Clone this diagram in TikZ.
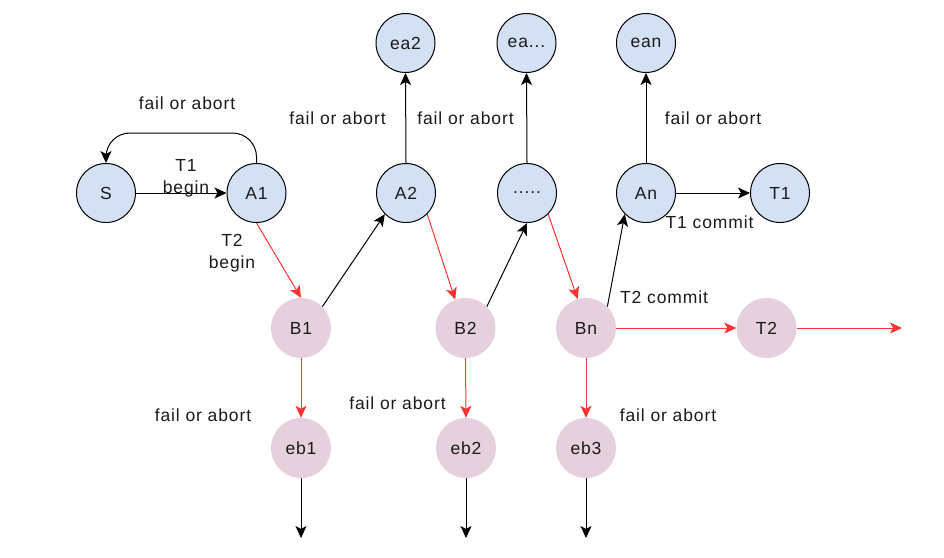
\documentclass[tikz,border=0pt]{standalone}
\usepackage{fontspec}
\setmainfont{Liberation Sans}[LetterSpace=5]
\usetikzlibrary{arrows.meta}
\definecolor{bluefill}{HTML}{D4E1F5}
\definecolor{pinkfill}{HTML}{E6D0DE}
\definecolor{redline}{HTML}{FF3333}
\definecolor{txt}{HTML}{1A1A1A}
\begin{document}
\begin{tikzpicture}[x=1pt,y=-1pt,
  font=\fontsize{17.5pt}{22pt}\selectfont, text=txt,
  bnode/.style={circle,draw=black,fill=bluefill,line width=1pt,minimum size=59pt,inner sep=0pt},
  pnode/.style={circle,draw=none,fill=pinkfill,minimum size=60pt,inner sep=0pt},
  lbl/.style={inner sep=0pt,align=center},
  blk/.style={draw=black,line width=1pt,-{Stealth[length=12pt,width=11pt,inset=3pt]}},
  rd/.style={draw=redline,line width=1pt,-{Stealth[length=12pt,width=11pt,inset=3pt]}}]
\useasboundingbox (0,0) rectangle (944,557);
% blue nodes
\node[bnode] (S) at (106,193) {S};
\node[bnode] (A1) at (256.5,193) {A1};
\node[bnode] (A2) at (406,193) {A2};
\node[bnode] (dots) at (527,193) {.....};
\node[bnode] (An) at (646,193) {An};
\node[bnode] (T1) at (780,193) {T1};
\node[bnode] (ea2) at (405.5,43) {ea2};
\node[bnode] (eadots) at (526.5,43) {ea...};
\node[bnode] (ean) at (646,43) {ean};
% pink nodes
\node[pnode] (B1) at (301,328) {B1};
\node[pnode] (B2) at (465.5,328) {B2};
\node[pnode] (Bn) at (586,328) {Bn};
\node[pnode] (T2) at (766.5,328) {T2};
\node[pnode] (eb1) at (301,448) {eb1};
\node[pnode] (eb2) at (466,448) {eb2};
\node[pnode] (eb3) at (586,448) {eb3};
% free ends
\coordinate (T2end) at (902,328);
\coordinate (eb1end) at (301,538);
\coordinate (eb2end) at (466,538);
\coordinate (eb3end) at (586,538);
% labels
\node[lbl] (l1) at (187,103) {fail or abort};
\node[lbl] (l2) at (186,178) {T1\\begin};
\node[lbl] (l3) at (232,253) {T2\\begin};
\node[lbl] (l4) at (337.5,118) {fail or abort};
\node[lbl] (l5) at (465.5,118) {fail or abort};
\node[lbl] (l6) at (713,118) {fail or abort};
\node[lbl] (l7) at (709.5,222) {T1 commit};
\node[lbl] (l8) at (664,297) {T2 commit};
\node[lbl] (l9) at (203,415) {fail or abort};
\node[lbl] (l10) at (397.5,403) {fail or abort};
\node[lbl] (l11) at (668,415) {fail or abort};
% edges
\draw[blk] (S.east) -- (A1.west);
\draw[blk,rounded corners=24pt] (A1.north) |- (180,133) -| (S.north);
\draw[rd] (A1.south) -- (B1.north);
\draw[blk] (B1.45) -- (A2.225);
\draw[rd] (A2.-45) -- (B2.110);
\draw[blk] (B2.45) -- (dots.south);
\draw[rd] (dots.-45) -- (Bn.106);
\draw[blk] (Bn.45) -- (An.225);
\draw[blk] (An.east) -- (T1.west);
\draw[rd] (Bn.east) -- (T2.west);
\draw[rd] (T2.east) -- (T2end);
\draw[blk] (A2.north) -- (ea2.south);
\draw[blk] (dots.north) -- (eadots.south);
\draw[blk] (An.north) -- (ean.south);
\draw[rd] (B1.south) -- (eb1.north);
\draw[rd] (B2.south) -- (eb2.north);
\draw[rd] (Bn.south) -- (eb3.north);
\draw[blk] (eb1.south) -- (eb1end);
\draw[blk] (eb2.south) -- (eb2end);
\draw[blk] (eb3.south) -- (eb3end);
\end{tikzpicture}
\end{document}
